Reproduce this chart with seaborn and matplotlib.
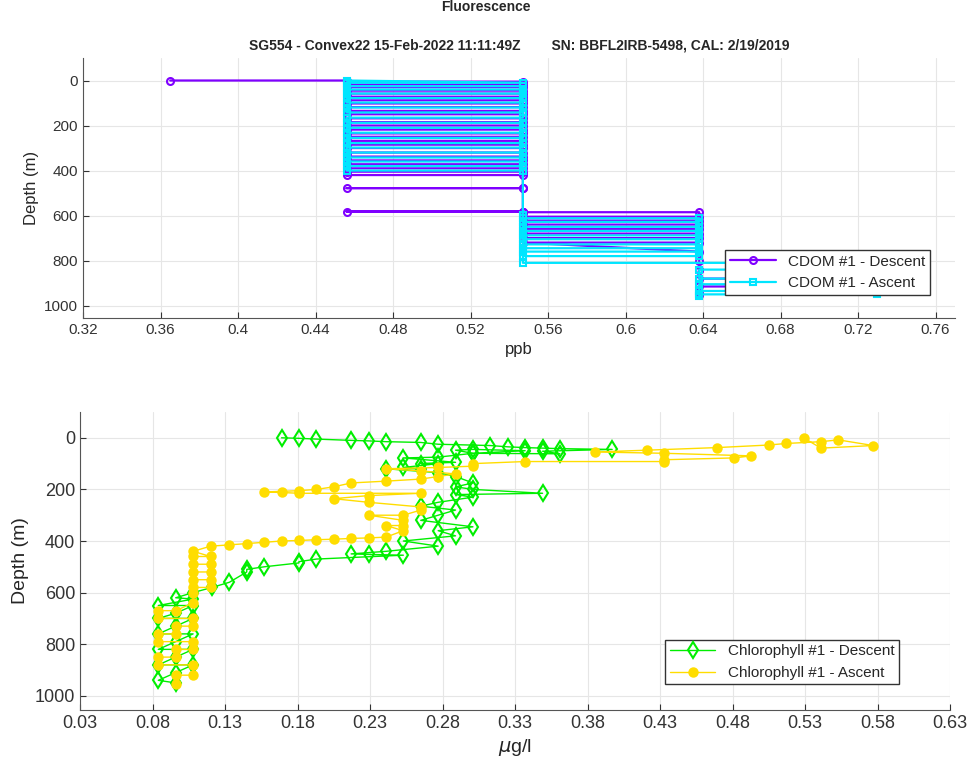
import numpy as np
import matplotlib
matplotlib.use('Agg')
import matplotlib.pyplot as plt
import seaborn as sns

# CDOM descent / ascent (ppb) vs depth (m); consecutive samples often share a depth
cdom_desc_depth = [0, 0, 5, 5, 18, 18, 30, 30, 45, 45, 58, 58, 72, 72, 88, 88, 102, 102,
                   118, 118, 135, 135, 150, 150, 168, 168, 185, 185, 200, 200, 218, 218,
                   235, 235, 250, 250, 268, 268, 285, 285, 300, 300, 320, 320, 338, 338,
                   355, 355, 372, 372, 390, 390, 405, 405,
                   420, 420, 478, 478, 478, 582, 582, 582, 585, 585,
                   605, 605, 622, 622, 640, 640, 660, 660, 680, 680, 700, 700,
                   720, 720, 760, 800, 840, 840, 880, 880, 915, 915, 945, 955]
cdom_desc = [0.365, 0.456, 0.456, 0.547, 0.547, 0.456, 0.456, 0.547, 0.547, 0.456, 0.456,
             0.547, 0.547, 0.456, 0.456, 0.547, 0.547, 0.456, 0.456, 0.547, 0.547, 0.456,
             0.456, 0.547, 0.547, 0.456, 0.456, 0.547, 0.547, 0.456, 0.456, 0.547, 0.547,
             0.456, 0.456, 0.547, 0.547, 0.456, 0.456, 0.547, 0.547, 0.456, 0.456, 0.547,
             0.547, 0.456, 0.456, 0.547, 0.547, 0.456, 0.456, 0.547, 0.547, 0.456,
             0.456, 0.547, 0.547, 0.456, 0.547, 0.547, 0.456, 0.547, 0.547, 0.638,
             0.638, 0.547, 0.547, 0.638,
             0.638, 0.547, 0.547, 0.638, 0.638, 0.547, 0.547, 0.638, 0.638, 0.547, 0.638,
             0.638, 0.638, 0.638, 0.638, 0.730, 0.730, 0.638, 0.638, 0.638]
cdom_asc_depth = [958, 950, 950, 935, 935, 905, 905, 880, 880, 840, 840, 810, 810, 780, 780,
                  760, 760, 745, 745, 728, 728, 705, 705, 688, 688, 668, 668, 650, 650, 628,
                  628, 612, 612, 598, 400, 400, 380, 380, 360, 360, 342, 342, 320, 320,
                  298, 298, 278, 278, 255, 255, 232, 232, 210, 210, 188, 188, 165, 165, 142,
                  142, 120, 120, 98, 98, 78, 78, 58, 58, 40, 40, 25, 25, 10, 10, 0]
cdom_asc = [0.638, 0.638, 0.730, 0.730, 0.638, 0.638, 0.730, 0.730, 0.638, 0.638, 0.730,
            0.730, 0.547, 0.547, 0.638, 0.638, 0.547, 0.547, 0.638, 0.638, 0.547, 0.547,
            0.638, 0.638, 0.547, 0.547, 0.638, 0.638, 0.547, 0.547, 0.638, 0.638, 0.547,
            0.547, 0.547, 0.456, 0.456, 0.547, 0.547, 0.456, 0.456, 0.547, 0.547, 0.456,
            0.456, 0.547, 0.547, 0.456, 0.456, 0.547, 0.547, 0.456, 0.456, 0.547, 0.547,
            0.456, 0.456, 0.547, 0.547, 0.456, 0.456, 0.547, 0.547, 0.456, 0.456, 0.547,
            0.547, 0.456, 0.456, 0.547, 0.547, 0.456, 0.456, 0.547, 0.456]

# Chlorophyll descent / ascent (ug/l)
chl_desc_depth = [0, 2, 5, 10, 12, 15, 18, 25, 30, 35, 38, 40, 42, 45, 52, 62, 60, 50, 45,
                  48, 60, 75, 78, 95, 100, 100, 115, 120, 120, 135, 150, 175, 190, 200, 215,
                  220, 230, 250, 265, 280, 300, 320, 345, 360, 380, 400, 420, 440, 450, 452,
                  455, 470, 480, 485, 500, 510, 520, 560, 580, 600, 620, 625, 650, 650, 680,
                  700, 700, 730, 760, 760, 790, 820, 820, 850, 880, 880, 910, 940, 950]
chl_desc = [0.169, 0.181, 0.193, 0.217, 0.229, 0.241, 0.265, 0.277, 0.313, 0.325, 0.337,
            0.349, 0.361, 0.397, 0.349, 0.361, 0.301, 0.337, 0.301, 0.289, 0.301, 0.277,
            0.253, 0.289, 0.265, 0.277, 0.253, 0.265, 0.241, 0.277, 0.289, 0.301, 0.289,
            0.301, 0.349, 0.289, 0.301, 0.277, 0.265, 0.289, 0.277, 0.265, 0.301, 0.277,
            0.289, 0.253, 0.277, 0.241, 0.217, 0.229, 0.253, 0.193, 0.181, 0.181, 0.157,
            0.145, 0.145, 0.133, 0.121, 0.108, 0.096, 0.108, 0.084, 0.108, 0.096, 0.084,
            0.108, 0.096, 0.084, 0.108, 0.096, 0.084, 0.108, 0.096, 0.084, 0.108, 0.096,
            0.084, 0.096]
chl_asc_depth = [955, 920, 920, 880, 880, 850, 850, 820, 820, 790, 790, 760, 760, 730, 730,
                 700, 700, 670, 670, 640, 600, 580, 580, 550, 550, 520, 520, 490, 490, 460,
                 460, 440, 420, 415, 410, 405, 400, 398, 395, 393, 390, 388, 385, 360, 340,
                 340, 320, 300, 300, 280, 268, 250, 236, 224, 215, 215, 212, 210, 205, 200,
                 190, 175, 168, 160, 150, 140, 128, 120, 115, 110, 100, 92, 92, 85, 78, 70,
                 60, 55, 48, 38, 28, 22, 15, 8, 30, 40, 0]
chl_asc = [0.096, 0.096, 0.108, 0.108, 0.084, 0.084, 0.096, 0.096, 0.108, 0.108, 0.084,
           0.084, 0.096, 0.096, 0.108, 0.108, 0.084, 0.084, 0.096, 0.108, 0.108, 0.108,
           0.120, 0.120, 0.108, 0.108, 0.120, 0.120, 0.108, 0.108, 0.120, 0.108, 0.120,
           0.133, 0.145, 0.157, 0.169, 0.181, 0.193, 0.205, 0.217, 0.229, 0.241, 0.253,
           0.241, 0.253, 0.253, 0.229, 0.253, 0.265, 0.265, 0.229, 0.205, 0.229, 0.265,
           0.181, 0.169, 0.157, 0.181, 0.193, 0.205, 0.217, 0.241, 0.265, 0.277, 0.289,
           0.265, 0.241, 0.277, 0.301, 0.301, 0.337, 0.433, 0.433, 0.481, 0.493, 0.433,
           0.385, 0.421, 0.469, 0.505, 0.517, 0.541, 0.553, 0.577, 0.541, 0.529]

cdom_ticks = [0.32, 0.36, 0.40, 0.44, 0.48, 0.52, 0.56, 0.60, 0.64, 0.68, 0.72, 0.76]
chl_ticks = [0.03, 0.08, 0.13, 0.18, 0.23, 0.28, 0.33, 0.38, 0.43, 0.48, 0.53, 0.58, 0.63]
depth_ticks = [0, 200, 400, 600, 800, 1000]

sns.set_style('whitegrid', {'grid.color': '#e6e6e6', 'axes.edgecolor': '#555555'})
plt.rcParams['font.family'] = ['Liberation Sans', 'DejaVu Sans']

fig = plt.figure(figsize=(9.71, 7.75), dpi=100)
ax1 = fig.add_axes([83/971, 1 - 318/775, 872/971, 260/775])
ax2 = fig.add_axes([80/971, 1 - 710/775, 870/971, 298/775])

def draw(ax, x, y, color, marker, label, mfc, ms, lw):
    sns.lineplot(x=x, y=y, ax=ax, sort=False, estimator=None, color=color, marker=marker,
                 markersize=ms, markerfacecolor=mfc, markeredgecolor=color, markeredgewidth=1.5,
                 linewidth=lw, label=label)

draw(ax1, cdom_desc, cdom_desc_depth, '#7f00ff', 'o', 'CDOM #1 - Descent', 'none', 5, 1.6)
draw(ax1, cdom_asc, cdom_asc_depth, '#00e5ff', 's', 'CDOM #1 - Ascent', 'none', 5, 1.6)
draw(ax2, chl_desc, chl_desc_depth, '#00ee00', 'd', 'Chlorophyll #1 - Descent', 'none', 8, 1.0)
draw(ax2, chl_asc, chl_asc_depth, '#ffdd00', 'o', 'Chlorophyll #1 - Ascent', '#ffdd00', 6, 1.0)

for ax, ticks, lim, xl, fs in [(ax1, cdom_ticks, (0.32, 0.77), 'ppb', 11),
                               (ax2, chl_ticks, (0.03, 0.63), r'$\mu$g/l', 13)]:
    ax.set_xlim(*lim)
    ax.set_ylim(1055, -100)
    ax.set_xticks(ticks)
    ax.set_xticklabels([f'{t:g}' for t in ticks])
    ax.set_yticks(depth_ticks)
    ax.tick_params(labelsize=fs, colors='#333333', direction='in', length=4, left=True, bottom=True)
    ax.set_xlabel(xl, fontsize=fs + 1)
    ax.set_ylabel('Depth (m)', fontsize=fs + 1)
    for s in ['top', 'right']:
        ax.spines[s].set_visible(False)

ax1.legend(loc='lower right', bbox_to_anchor=(0.98, 0.06), fontsize=11, frameon=True,
           fancybox=False, edgecolor='#333333', framealpha=1, borderpad=0.3, handlelength=3)
ax2.legend(loc='lower right', bbox_to_anchor=(0.95, 0.06), fontsize=11, frameon=True,
           fancybox=False, edgecolor='#333333', framealpha=1, borderpad=0.3, handlelength=3)

fig.text(0.5, 1 - 7/775, 'Fluorescence', ha='center', va='center', fontsize=10, fontweight='bold')
ax1.set_title('SG554 - Convex22 15-Feb-2022 11:11:49Z        SN: BBFL2IRB-5498, CAL: 2/19/2019',
              fontsize=10, fontweight='bold', pad=6)

fig.savefig('out.png', dpi=100)
